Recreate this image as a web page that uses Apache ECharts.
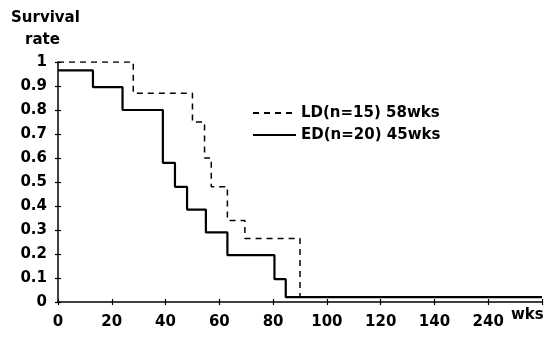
<!DOCTYPE html>
<html>
<head>
<meta charset="utf-8">
<script src="https://cdn.jsdelivr.net/npm/echarts@6/dist/echarts.min.js"></script>
<style>html,body{margin:0;padding:0;background:#fff}#c{width:553px;height:337px}</style>
</head>
<body>
<div id="c"></div>
<script>
// Kaplan-Meier step data (time in weeks, survival after the drop)
const ldTimes = [0, 28, 50, 54.5, 57, 63, 69.5, 90, 180];
const ldSurv  = [1.0, 0.87, 0.75, 0.6, 0.48, 0.34, 0.265, 0.02, 0.02];
const edTimes = [0, 13, 24, 39, 43.5, 48, 55, 63, 80.5, 84.7, 180];
const edSurv  = [0.965, 0.895, 0.8, 0.58, 0.48, 0.385, 0.29, 0.195, 0.095, 0.02, 0.02];
const seriesNames = ['LD(n=15) 58wks', 'ED(n=20) 45wks'];
const xTickLabels = {0:'0',20:'20',40:'40',60:'60',80:'80',100:'100',120:'120',140:'140',160:'240',180:''};

const FONT = 'DejaVu Sans';
const lblStyle = {color:'#000', fontFamily:FONT, fontWeight:'bold', fontSize:15};

const chart = echarts.init(document.getElementById('c'));
const pairs = (t, s) => t.map((v, i) => [v, s[i]]);
chart.setOption({
  animation: false,
  backgroundColor: '#fff',
  grid: {left: 58, right: 11, top: 62, bottom: 35, containLabel: false},
  xAxis: [{
    type: 'value', min: 0, max: 180, interval: 20,
    axisLine: {lineStyle: {color: '#000', width: 1.5}},
    axisTick: {show: true, inside: true, length: 3, lineStyle: {color: '#000', width: 1.2}},
    axisLabel: Object.assign({margin: 13, formatter: v => xTickLabels[v] ?? ''}, lblStyle),
    splitLine: {show: false}
  }, {
    type: 'value', min: 0, max: 180, interval: 20, position: 'bottom',
    axisLine: {show: false},
    axisTick: {show: true, inside: false, length: 3, lineStyle: {color: '#000', width: 1.2}},
    axisLabel: {show: false}, splitLine: {show: false}
  }],
  yAxis: [{
    type: 'value', min: 0, max: 1, interval: 0.1,
    axisLine: {show: true, lineStyle: {color: '#000', width: 1.5}},
    axisTick: {show: true, inside: true, length: 3, lineStyle: {color: '#000', width: 1.2}},
    axisLabel: Object.assign({margin: 11, formatter: v => String(+v.toFixed(1))}, lblStyle),
    splitLine: {show: false}
  }, {
    type: 'value', min: 0, max: 1, interval: 0.1, position: 'left',
    axisLine: {show: false},
    axisTick: {show: true, inside: false, length: 3, lineStyle: {color: '#000', width: 1.2}},
    axisLabel: {show: false}, splitLine: {show: false}
  }],
  legend: {
    orient: 'vertical', left: 247, top: 99,
    itemWidth: 43, itemHeight: 14, itemGap: 4,
    data: seriesNames,
    itemStyle: {opacity: 0},
    textStyle: Object.assign({lineHeight: 18}, lblStyle)
  },
  graphic: [
    {type: 'text', left: 11, top: 11, style: {text: 'Survival', fill: '#000', font: 'bold 15px "DejaVu Sans"'}},
    {type: 'text', left: 25, top: 33, style: {text: 'rate', fill: '#000', font: 'bold 15px "DejaVu Sans"'}},
    {type: 'text', left: 511, top: 308, style: {text: 'wks', fill: '#000', font: 'bold 15px "DejaVu Sans"'}}
  ],
  series: [{
    name: seriesNames[0], type: 'line', step: 'end', symbol: 'none',
    data: pairs(ldTimes, ldSurv),
    lineStyle: {color: '#000', width: 1.5, type: [6, 5]},
    itemStyle: {color: '#000'}, z: 3
  }, {
    name: seriesNames[1], type: 'line', step: 'end', symbol: 'none',
    data: pairs(edTimes, edSurv),
    lineStyle: {color: '#000', width: 2.2, type: 'solid'},
    itemStyle: {color: '#000'}, z: 4
  }]
});
</script>
</body>
</html>
